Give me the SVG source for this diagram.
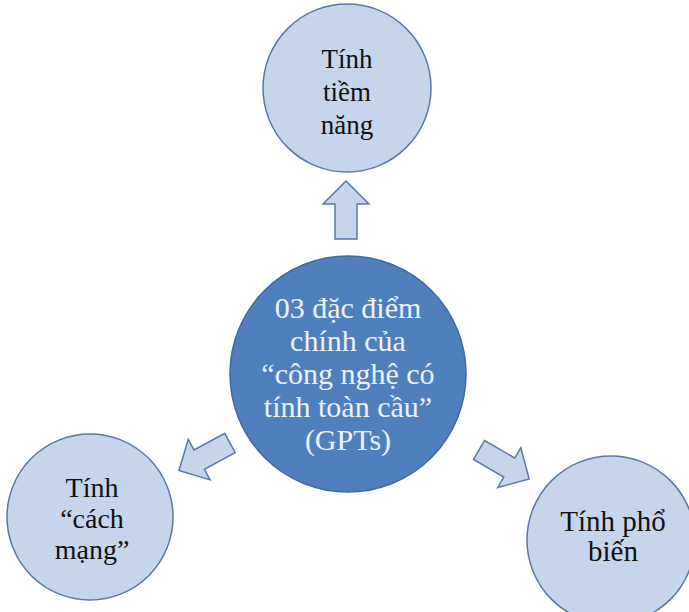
<svg xmlns="http://www.w3.org/2000/svg" width="689" height="612" viewBox="0 0 689 612">
<defs>
<style>
.lc{fill:#c6d5eb;stroke:#5a78a6;stroke-width:1.5}
.cc{fill:#4f80bd;stroke:#3e6aa0;stroke-width:1.5}
.ar{fill:#c6d5eb;stroke:#5a78a6;stroke-width:1.5;stroke-linejoin:miter}
.t{font-family:"Liberation Serif","Times New Roman",serif;text-anchor:middle;fill:#111}
.tw{font-family:"Liberation Serif","Times New Roman",serif;font-size:30px;text-anchor:middle;fill:#eef2f8}
</style>
<path id="arr" d="M0,-11 L35,-11 L35,-23 L58,0 L35,23 L35,11 L0,11 Z"/>
</defs>
<rect width="689" height="612" fill="#ffffff"/>
<g id="connectors">
<use href="#arr" class="ar" transform="translate(346,239) rotate(-90)"/>
<use href="#arr" class="ar" transform="translate(230,443) rotate(151.7)"/>
<use href="#arr" class="ar" transform="translate(479,450) rotate(30.1)"/>
</g>
<g id="top">
<circle class="lc" cx="347" cy="88" r="84"/>
<text class="t" font-size="27" x="347" y="68">Tính</text>
<text class="t" font-size="27" x="347" y="101">tiềm</text>
<text class="t" font-size="27" x="347" y="134">năng</text>
</g>
<g id="center">
<circle class="cc" cx="348" cy="374" r="118"/>
<text class="tw" x="348" y="318">03 đặc điểm</text>
<text class="tw" x="348" y="351">chính của</text>
<text class="tw" x="348" y="384">“công nghệ có</text>
<text class="tw" x="348" y="417">tính toàn cầu”</text>
<text class="tw" x="348" y="450">(GPTs)</text>
</g>
<g id="left">
<circle class="lc" cx="90" cy="517" r="83"/>
<text class="t" font-size="28" x="92" y="497">Tính</text>
<text class="t" font-size="28" x="92" y="528">“cách</text>
<text class="t" font-size="28" x="92" y="559">mạng”</text>
</g>
<g id="right">
<circle class="lc" cx="611" cy="540" r="84"/>
<text class="t" font-size="29" x="613" y="531">Tính phổ</text>
<text class="t" font-size="29" x="613" y="561">biến</text>
</g>
</svg>
